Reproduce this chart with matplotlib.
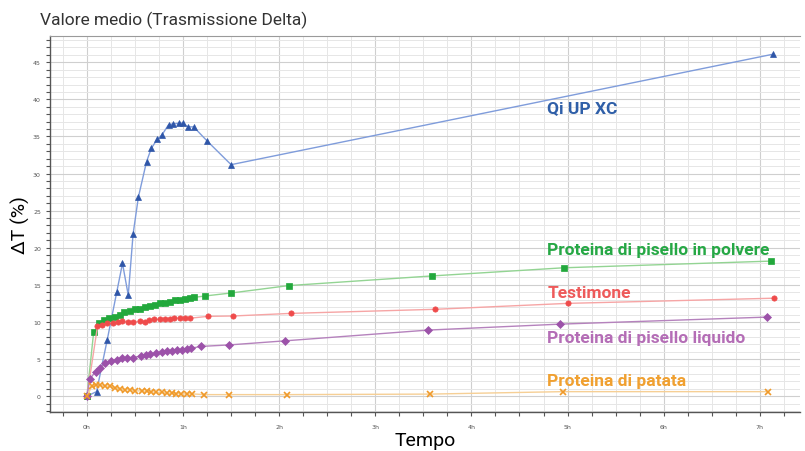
import numpy as np
import matplotlib
matplotlib.use("Agg")
from matplotlib import pyplot as plt
from matplotlib.ticker import MultipleLocator, FixedLocator

# Qi UP XC
t_qi = [0, 0.10, 0.21, 0.31, 0.37, 0.43, 0.48, 0.535, 0.62, 0.67, 0.73, 0.78, 0.85, 0.90, 0.96,
        1.00, 1.05, 1.11, 1.25, 1.50, 7.14]
v_qi = [0, 0.6, 7.5, 14.0, 17.9, 13.6, 21.8, 26.8, 31.6, 33.4, 34.6, 35.2, 36.6, 36.7, 36.8,
        36.8, 36.3, 36.3, 34.4, 31.2, 46.1]

# Proteina di pisello in polvere
t_polv = [0, 0.07, 0.13, 0.18, 0.23, 0.29, 0.34, 0.39, 0.45, 0.50, 0.55, 0.60, 0.66, 0.71, 0.76,
          0.81, 0.86, 0.92, 0.97, 1.02, 1.07, 1.11, 1.23, 1.50, 2.10, 3.59, 4.96, 7.12]
v_polv = [0, 8.6, 9.8, 10.2, 10.5, 10.7, 11.0, 11.3, 11.5, 11.7, 11.8, 12.0, 12.2, 12.3, 12.5,
          12.6, 12.75, 12.9, 13.0, 13.1, 13.2, 13.3, 13.5, 13.9, 14.9, 16.2, 17.3, 18.2]

# Testimone
t_test = [0, 0.11, 0.16, 0.21, 0.27, 0.32, 0.37, 0.43, 0.48, 0.55, 0.60, 0.65, 0.70, 0.76, 0.81,
          0.86, 0.91, 0.97, 1.02, 1.07, 1.26, 1.52, 2.12, 3.62, 5.00, 7.15]
v_test = [0, 9.4, 9.65, 9.8, 9.9, 10.0, 10.1, 10.0, 10.0, 10.1, 10.05, 10.3, 10.35, 10.35, 10.4,
          10.45, 10.5, 10.55, 10.55, 10.5, 10.75, 10.8, 11.15, 11.7, 12.5, 13.2]

# Proteina di pisello liquido
t_liq = [0, 0.03, 0.09, 0.14, 0.19, 0.25, 0.31, 0.36, 0.42, 0.475, 0.56, 0.61, 0.66, 0.72, 0.78,
         0.83, 0.88, 0.94, 0.99, 1.04, 1.08, 1.19, 1.48, 2.06, 3.55, 4.92, 7.07]
v_liq = [0, 2.3, 3.3, 3.85, 4.4, 4.75, 4.9, 5.1, 5.2, 5.2, 5.4, 5.5, 5.65, 5.8, 5.95,
         6.05, 6.1, 6.2, 6.25, 6.35, 6.45, 6.7, 6.9, 7.45, 8.9, 9.7, 10.65]

# Proteina di patata
t_pat = [0, 0.05, 0.09, 0.14, 0.19, 0.24, 0.29, 0.34, 0.40, 0.45, 0.50, 0.57, 0.62, 0.67, 0.72,
         0.78, 0.83, 0.88, 0.93, 0.98, 1.04, 1.09, 1.22, 1.48, 2.08, 3.57, 4.95, 7.09]
v_pat = [0, 1.3, 1.45, 1.45, 1.4, 1.3, 1.15, 0.95, 0.85, 0.85, 0.7, 0.7, 0.65, 0.6, 0.5,
         0.5, 0.4, 0.4, 0.35, 0.3, 0.3, 0.3, 0.2, 0.2, 0.2, 0.27, 0.6, 0.6]

hour_ticks = [0, 1, 2, 3, 4, 5, 6, 7]
hour_labels = ["0h", "1h", "2h", "3h", "4h", "5h", "6h", "7h"]

label_font = ["Roboto", "DejaVu Sans"]

fig = plt.figure(figsize=(8.05, 4.52), dpi=100)
ax = fig.add_axes([0.062, 0.087, 0.932, 0.832])

series = [
    (t_qi, v_qi, "^", "#7f9cdb", "#2f56a8"),
    (t_polv, v_polv, "s", "#93d493", "#22a83c"),
    (t_test, v_test, "o", "#f6a5a5", "#ef4b4b"),
    (t_liq, v_liq, "D", "#b582bd", "#9c52a9"),
    (t_pat, v_pat, "x", "#f6cf95", "#f09a2a"),
]
for t, v, mk, lc, mc in series:
    ax.plot(t, v, color=lc, lw=1.0, marker=mk, markersize=3.8,
            markerfacecolor=mc, markeredgecolor=mc, markeredgewidth=1.2 if mk == "x" else 0.5,
            zorder=3)

ax.set_xlim(-0.385, 7.42)
ax.set_ylim(-2.1, 48.6)

ax.xaxis.set_major_locator(FixedLocator(hour_ticks))
ax.set_xticklabels(hour_labels)
ax.xaxis.set_minor_locator(MultipleLocator(0.25))
ax.yaxis.set_major_locator(MultipleLocator(5))
ax.yaxis.set_minor_locator(MultipleLocator(1))

ax.tick_params(axis="both", which="both", direction="out", length=3, width=0.8,
               color="#555555", labelsize=4.5, labelcolor="#555555")
ax.tick_params(axis="x", which="major", pad=6)

ax.grid(True, which="major", color="#cfcfcf", lw=0.8, zorder=0)
ax.grid(True, which="minor", color="#e6e6e6", lw=0.7, zorder=0)
ax.set_axisbelow(True)

for s in ["left", "bottom"]:
    ax.spines[s].set_color("#555555")
    ax.spines[s].set_linewidth(1.0)
ax.spines["top"].set_color("#9a9a9a")
ax.spines["right"].set_visible(False)

ax.set_xlabel("Tempo", fontsize=14, family=label_font, labelpad=1)
ax.set_ylabel("ΔT (%)", fontsize=14, family=label_font, labelpad=2)

fig.text(0.05, 0.955, "Valore medio (Trasmissione Delta)", fontsize=12.5,
         family=label_font, color="#333333", va="center")

notes = [
    ("Qi UP XC", 38.9, "#2f5fa8"),
    ("Proteina di pisello in polvere", 19.7, "#26a845"),
    ("Testimone", 14.0, "#ee5a5a"),
    ("Proteina di pisello liquido", 7.9, "#b46db6"),
    ("Proteina di patata", 2.1, "#f0a030"),
]
for txt, y, c in notes:
    ax.text(4.79, y, txt, fontsize=12.5, fontweight="bold", color=c,
            family=label_font, va="center", ha="left", zorder=4)

fig.savefig("out.png", dpi=100)
